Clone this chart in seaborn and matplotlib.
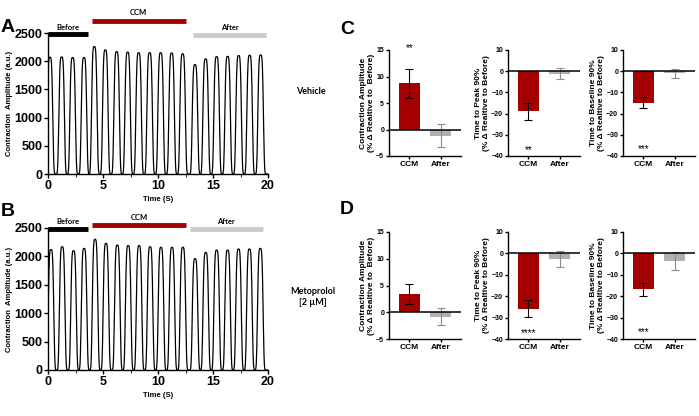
import numpy as np
import pandas as pd
import matplotlib
matplotlib.use("Agg")
import matplotlib.pyplot as plt
import seaborn as sns

# ---- traces (peak times in s, peak heights in a.u.) ----
peak_times_a = [0.18, 1.24, 2.24, 3.27, 4.21, 5.21, 6.24, 7.24, 8.24, 9.24,
                10.24, 11.24, 12.24, 13.36, 14.33, 15.33, 16.33, 17.33, 18.33, 19.33]
peak_amps_a = [2070, 2075, 2065, 2065, 2260, 2200, 2170, 2160, 2150, 2150,
               2150, 2145, 2130, 1940, 2040, 2080, 2085, 2100, 2105, 2110]

peak_times_b = [0.27, 1.29, 2.32, 3.28, 4.28, 5.27, 6.30, 7.29, 8.28, 9.28,
                10.27, 11.27, 12.26, 13.37, 14.34, 15.33, 16.33, 17.32, 18.31, 19.30]
peak_amps_b = [2120, 2170, 2100, 2140, 2300, 2230, 2200, 2190, 2190, 2170,
               2160, 2160, 2160, 1960, 2070, 2110, 2110, 2130, 2130, 2140]

# ---- summary bars: % change relative to Before ----
conditions = ["CCM", "After"]
metric_labels = [
    "Contraction Amplitude\n(% \u0394 Realtive to  Before)",
    "Time to Peak 90%\n(% \u0394 Realtive to Before)",
    "Time to Baseline 90%\n(% \u0394 Realtive to Before)",
]
vehicle_means = [[8.7, -1.2], [-19.0, -1.2], [-14.9, -0.95]]
vehicle_sem = [[2.7, 2.15], [4.2, 2.5], [2.6, 2.1]]
vehicle_stars = ["**", "**", "***"]

metoprolol_means = [[3.4, -0.8], [-25.8, -2.7], [-16.8, -3.45]]
metoprolol_sem = [[1.9, 1.6], [4.0, 3.6], [2.9, 4.2]]
metoprolol_stars = ["", "****", "***"]

RED = "#a50000"
GREY = "#b0b0b0"

sns.set_style("ticks")
plt.rcParams["font.family"] = ["Liberation Sans", "DejaVu Sans"]
plt.rcParams["axes.linewidth"] = 1.0
plt.rcParams["xtick.major.width"] = 1.0
plt.rcParams["ytick.major.width"] = 1.0
for key in ["text.color", "axes.labelcolor", "axes.edgecolor",
            "xtick.color", "ytick.color"]:
    plt.rcParams[key] = "black"

W, H = 699, 416
fig = plt.figure(figsize=(W / 100, H / 100), dpi=100)


def box(left, right, top, bottom):
    return [left / W, 1 - bottom / H, (right - left) / W, (bottom - top) / H]


def trace_frame(times, amps):
    t = np.linspace(0, 20, 4001)
    y = np.zeros_like(t)
    for tp, a in zip(times, amps):
        y += a * np.exp(-((t - tp) / 0.28) ** 4)
    return pd.DataFrame({"time": t, "amp": y})


def plot_trace(ax, times, amps, marks):
    df = trace_frame(times, amps)
    sns.lineplot(data=df, x="time", y="amp", ax=ax, color="black",
                 lw=0.9, estimator=None)
    ax.set_xlim(0, 20)
    ax.set_ylim(0, 2500)
    ax.set_xticks([0, 5, 10, 15, 20])
    ax.set_xticks([2.5, 7.5, 12.5, 17.5], minor=True)
    ax.set_yticks(range(0, 2501, 500))
    ax.tick_params(labelsize=9, length=3, pad=1)
    ax.tick_params(which="minor", length=2)
    for lab in ax.get_xticklabels() + ax.get_yticklabels():
        lab.set_fontweight("bold")
    ax.set_xlabel("Time (S)", fontsize=5.5, fontweight="bold", labelpad=3)
    ax.set_ylabel("Contraction  Amplitude (a.u.)", fontsize=5.5,
                  fontweight="bold", labelpad=1)
    sns.despine(ax=ax)
    for name, x0, x1, yb, yl, col in marks:
        ax.plot([x0, x1], [yb, yb], color=col, lw=3.5,
                solid_capstyle="butt", clip_on=False)
        ax.text((x0 + x1) / 2 if name != "Before" else x1 / 2, yl, name,
                ha="center", va="center", fontsize=5.5, fontweight="bold",
                family="Lato")


ax_a = fig.add_axes(box(48, 268, 33, 174))
plot_trace(ax_a, peak_times_a, peak_amps_a, [
    ("Before", 0, 3.67, 2480, 2590, "black"),
    ("CCM", 3.97, 12.5, 2718, 2860, RED),
    ("After", 13.2, 19.8, 2465, 2600, "#cccccc"),
])

ax_b = fig.add_axes(box(48, 268, 228, 370))
plot_trace(ax_b, peak_times_b, peak_amps_b, [
    ("Before", 0, 3.66, 2480, 2623, "black"),
    ("CCM", 4.04, 12.56, 2560, 2680, RED),
    ("After", 12.9, 19.5, 2475, 2623, "#cccccc"),
])


def plot_bars(ax, means, sems, ylabel, ylim, yticks, stars, star_y):
    df = pd.DataFrame({"cond": conditions, "val": means})
    sns.barplot(data=df, x="cond", y="val", hue="cond",
                palette=[RED, GREY], ax=ax, width=0.66, errorbar=None,
                legend=False, edgecolor="none", saturation=1)
    for i, (m, s) in enumerate(zip(means, sems)):
        ax.errorbar(i, m, yerr=s, fmt="none",
                    ecolor="black" if i == 0 else "#8c8c8c",
                    elinewidth=0.8, capsize=3, capthick=0.8)
    ax.axhline(0, color="black", lw=1.1, zorder=3)
    ax.set_xlim(-0.66, 1.66)
    ax.set_ylim(*ylim)
    ax.set_yticks(yticks)
    ax.set_xlabel("")
    ax.set_ylabel(ylabel, fontsize=6, fontweight="bold", labelpad=1,
                  linespacing=1.15)
    ax.tick_params(axis="y", labelsize=5, length=2.5, pad=1)
    ax.tick_params(axis="x", labelsize=6, length=2.5, pad=1)
    for lab in ax.get_xticklabels() + ax.get_yticklabels():
        lab.set_fontweight("bold")
    sns.despine(ax=ax)
    if stars:
        ax.text(0, star_y, stars, ha="center", va="center", fontsize=7,
                clip_on=False)


row_boxes = [(389, 461), (508, 580), (623, 695)]
ranges = [((-5, 15), [-5, 0, 5, 10, 15]),
          ((-40, 10), [-40, -30, -20, -10, 0, 10]),
          ((-40, 10), [-40, -30, -20, -10, 0, 10])]
vehicle_star_y = [15.4, -37.2, -36.5]
metoprolol_star_y = [0, -37.2, -36.7]

for k, (l, r) in enumerate(row_boxes):
    ax = fig.add_axes(box(l, r, 50, 156))
    plot_bars(ax, vehicle_means[k], vehicle_sem[k], metric_labels[k],
              ranges[k][0], ranges[k][1], vehicle_stars[k], vehicle_star_y[k])
    ax = fig.add_axes(box(l, r, 232, 339))
    plot_bars(ax, metoprolol_means[k], metoprolol_sem[k], metric_labels[k],
              ranges[k][0], ranges[k][1], metoprolol_stars[k],
              metoprolol_star_y[k])

# panel letters and row labels
for letter, x, y in [("A", 1, 27), ("B", 1, 211), ("C", 340, 29), ("D", 340, 209)]:
    fig.text(x / W, 1 - y / H, letter, fontsize=14, fontweight="bold",
             va="center", ha="left")
fig.text(311 / W, 1 - 92 / H, "Vehicle", fontsize=6.5, fontweight="bold",
         ha="center", va="center", family="Lato")
fig.text(313 / W, 1 - 297 / H, "Metoprolol\n[2 \u00b5M]", fontsize=6.5,
         fontweight="bold", ha="center", va="center", family="Lato",
         linespacing=1.4)

fig.savefig("out.png", dpi=100)
